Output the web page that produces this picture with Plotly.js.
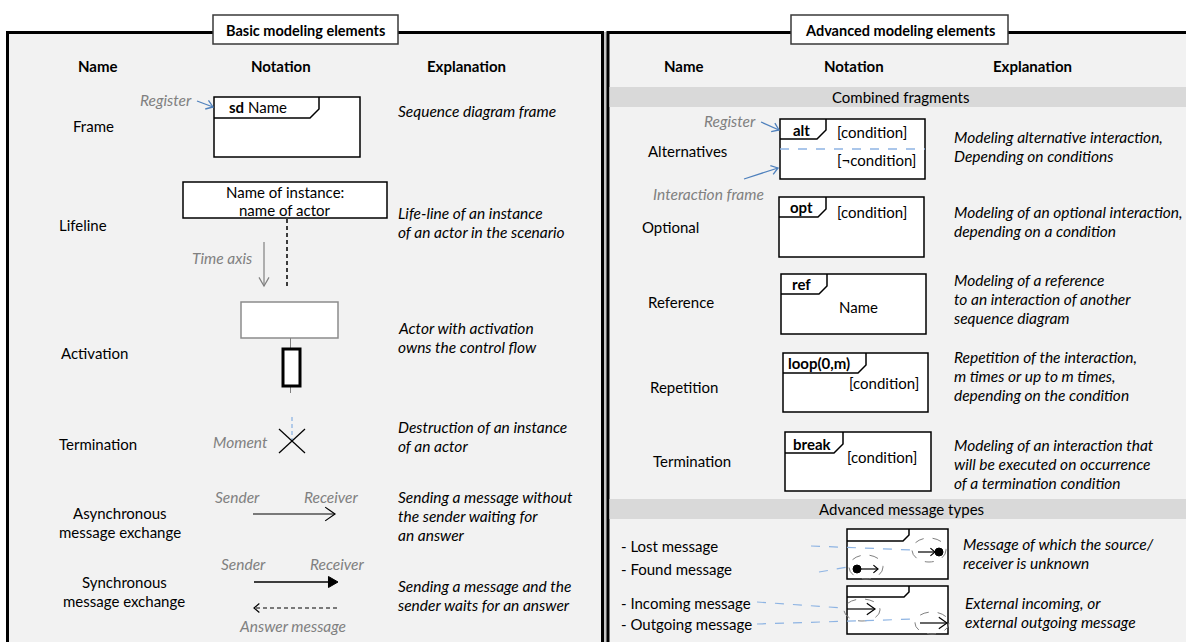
<!DOCTYPE html>
<html><head><meta charset="utf-8">
<script src="https://cdn.plot.ly/plotly-3.0.1.min.js"></script>
<style>html,body{margin:0;padding:0;background:#fff;}#chart{width:1186px;height:642px;}</style>
</head><body><div id="chart"></div>
<script>
// ---------------- DATA (text content) ----------------
const sectionTitles = ["Basic modeling elements", "Advanced modeling elements"];
const columnHeaders = ["Name", "Notation", "Explanation"];
const basicNames = [["Frame"], ["Lifeline"], ["Activation"], ["Termination"],
  ["Asynchronous", "message exchange"], ["Synchronous", "message exchange"]];
const basicExplanations = [
  ["Sequence diagram frame"],
  ["Life-line of an instance", "of an actor in the scenario"],
  ["Actor with activation", "owns the control flow"],
  ["Destruction of an instance", "of an actor"],
  ["Sending a message without", "the sender waiting for", "an answer"],
  ["Sending a message and the", "sender waits for an answer"]
];
const bandTitles = ["Combined fragments", "Advanced message types"];
const advancedNames = ["Alternatives", "Optional", "Reference", "Repetition", "Termination"];
const fragmentOperators = ["alt", "opt", "ref", "loop(0,m)", "break"];
const fragmentTexts = [["[condition]", "[\u00accondition]"], ["[condition]"], ["Name"], ["[condition]"], ["[condition]"]];
const advancedExplanations = [
  ["Modeling alternative interaction,", "Depending on conditions"],
  ["Modeling of an optional interaction,", "depending on a condition"],
  ["Modeling of a reference", "to an interaction of another", "sequence diagram"],
  ["Repetition of the interaction,", "m times or up to m times,", "depending on the condition"],
  ["Modeling of an interaction that", "will be executed on occurrence", "of a termination condition"]
];
const messageLabels = ["- Lost message", "- Found message", "- Incoming message", "- Outgoing message"];
const messageExplanations = [["Message of which the source/", "receiver is unknown"],
  ["External incoming, or", "external outgoing message"]];
const frameTitle = ["sd", "Name"];
const lifelineText = ["Name of instance:", "name of actor"];
const hintLabels = { register: "Register", timeAxis: "Time axis", moment: "Moment", sender: "Sender",
  receiver: "Receiver", answer: "Answer message", interactionFrame: "Interaction frame" };

// ---------------- DRAWING ----------------
const FONT = "Lato, 'Open Sans', sans-serif";
const GRAY = "#808080", BLUE = "#4f81bd", LBLUE = "#8eb4e3";
const SIZE = 15, ISIZE = 15.5;
const shapes = [], ann = [];
function rect(x0, y0, x1, y1, color, width, fill, dash) {
  shapes.push({type: 'rect', xref: 'x', yref: 'y', x0, y0, x1, y1,
    line: {color: color || 'rgba(0,0,0,0)', width: width || 0, dash: dash || 'solid'}, fillcolor: fill || 'rgba(0,0,0,0)'});
}
function line(x0, y0, x1, y1, color, width, dash) {
  shapes.push({type: 'line', xref: 'x', yref: 'y', x0, y0, x1, y1, line: {color, width, dash: dash || 'solid'}});
}
function path(d, color, width, fill, dash) {
  shapes.push({type: 'path', xref: 'x', yref: 'y', path: d, line: {color, width, dash: dash || 'solid'}, fillcolor: fill || 'rgba(0,0,0,0)'});
}
function ellipse(cx, cy, rx, ry, color, width, dash, fill) {
  shapes.push({type: 'circle', xref: 'x', yref: 'y', x0: cx - rx, x1: cx + rx, y0: cy - ry, y1: cy + ry,
    line: {color, width, dash: dash || 'solid'}, fillcolor: fill || 'rgba(0,0,0,0)'});
}
function wings(x1, y1, x2, y2, len, deg) {
  const a = Math.atan2(y2 - y1, x2 - x1), r = deg * Math.PI / 180;
  return [[x2 - len * Math.cos(a - r), y2 - len * Math.sin(a - r)], [x2 - len * Math.cos(a + r), y2 - len * Math.sin(a + r)]];
}
function arrow(x1, y1, x2, y2, o) {
  o = Object.assign({color: '#000', width: 1.2, dash: 'solid', len: 10, deg: 30, filled: false}, o);
  const [p, q] = wings(x1, y1, x2, y2, o.len, o.deg);
  if (o.filled) {
    const a = Math.atan2(y2 - y1, x2 - x1);
    const c = o.len * Math.cos(o.deg * Math.PI / 180);
    line(x1, y1, x2 - c * Math.cos(a), y2 - c * Math.sin(a), o.color, o.width, o.dash);
    path(`M${p[0]},${p[1]} L${x2},${y2} L${q[0]},${q[1]} Z`, o.color, 1, o.color);
  } else {
    line(x1, y1, x2, y2, o.color, o.width, o.dash);
    path(`M${p[0]},${p[1]} L${x2},${y2} L${q[0]},${q[1]}`, o.color, o.width);
  }
}
function text(x, y, t, o) {
  o = o || {};
  ann.push({x, y, xref: 'x', yref: 'y', text: t, showarrow: false,
    xanchor: o.xanchor || 'center', yanchor: 'middle',
    font: {family: FONT, size: o.size || (o.italic ? ISIZE : SIZE), color: o.color || '#000',
      style: o.italic ? 'italic' : 'normal', weight: o.bold ? 'bold' : 'normal'}});
}
function lines(x, y, arr, step, o) { arr.forEach((t, i) => text(x, y + i * step, t, o)); }
function fragment(x0, y0, x1, y1, tabRight, tabBottom, cut) {
  rect(x0, y0, x1, y1, '#000', 1.5, '#fff');
  path(`M${x0},${tabBottom} L${tabRight - cut},${tabBottom} L${tabRight},${tabBottom - cut} L${tabRight},${y0}`, '#000', 1.5);
}

// panels
rect(602, 32, 609, 700, null, 0, '#c4c4c4');
rect(7.5, 32.5, 602.5, 700, '#000', 3, '#f2f2f2');
rect(608, 32.5, 1200, 700, '#000', 3, '#f2f2f2');
rect(609.5, 87, 1200, 107, null, 0, '#d9d9d9');
rect(609.5, 499, 1200, 519, null, 0, '#d9d9d9');
rect(213, 15, 398, 44, '#3a3a3a', 1.5, '#fff');
rect(791, 15, 1008, 44, '#3a3a3a', 1.5, '#fff');
text(305.5, 30, sectionTitles[0], {bold: true, size: 14.5});
text(899.5, 30, sectionTitles[1], {bold: true, size: 14.5});

// column headers
[[98, 281, 466], [684, 854, 1032]].forEach(xs => xs.forEach((x, i) => text(x, 66, columnHeaders[i], {bold: true})));

// ----- left panel -----
const leftNameX = [93, 83, 94, 98, 120, 124];
const leftNameY = [126, 225, 353, 444, 513, 582];
basicNames.forEach((n, i) => lines(leftNameX[i], leftNameY[i], n, 19));
const leftExpY = [111, 213, 328, 427, 497, 586];
basicExplanations.forEach((e, i) => lines(396, leftExpY[i], e, 19, {xanchor: 'left', italic: true}));

// frame
fragment(214, 97, 360, 157, 319, 118, 9);
text(227, 107, `<b>${frameTitle[0]}</b> ${frameTitle[1]}`, {xanchor: 'left'});
text(194, 100, hintLabels.register, {xanchor: 'right', italic: true, color: GRAY});
arrow(197, 101, 213, 107, {color: BLUE, width: 1.3, len: 8, deg: 35});

// lifeline
rect(183, 182, 387, 218, '#000', 1.5, '#fff');
lines(285, 192, lifelineText, 18);
line(287, 219, 287, 287, '#000', 1.5, '4px,3px');
text(222, 258, hintLabels.timeAxis, {italic: true, color: GRAY});
arrow(264, 242, 264, 286, {color: GRAY, width: 1.2, len: 10, deg: 30});

// activation
rect(241, 302, 338, 338, '#8c8c8c', 1.5, '#fff');
line(290.5, 338, 290.5, 349, GRAY, 1);
line(290.5, 386, 290.5, 393, GRAY, 1);
rect(283, 349, 300, 386, '#000', 3, '#fff');

// termination
line(292, 417, 292, 441, LBLUE, 1.3, '4px,3px');
line(279, 429, 305, 453, '#000', 1.2);
line(305, 429, 279, 453, '#000', 1.2);
text(270, 442, hintLabels.moment, {xanchor: 'right', italic: true, color: GRAY});

// async
text(237, 497, hintLabels.sender, {italic: true, color: GRAY});
text(331, 497, hintLabels.receiver, {italic: true, color: GRAY});
arrow(253, 514, 335, 514, {len: 12, deg: 35});

// sync
text(243, 564, hintLabels.sender, {italic: true, color: GRAY});
text(337, 564, hintLabels.receiver, {italic: true, color: GRAY});
arrow(254, 582, 338, 582, {len: 11, deg: 30, filled: true, width: 1.5});
arrow(337, 608, 254, 608, {len: 7, deg: 40, dash: '4px,3px', width: 1.2});
text(292, 626, hintLabels.answer, {italic: true, color: GRAY});

// ----- right panel -----
text(901, 97, bandTitles[0]);
text(901, 509, bandTitles[1]);
const rightNameX = [687, 670, 681, 684, 692];
const rightNameY = [151, 227, 302, 387, 461];
advancedNames.forEach((n, i) => text(rightNameX[i], rightNameY[i], n));
const rightExpY = [137, 212, 280, 357, 445];
advancedExplanations.forEach((e, i) => lines(952, rightExpY[i], e, 19, {xanchor: 'left', italic: true}));

// fragments: [x0,y0,x1,y1,tabRight,tabBottom,cut]
const frags = [[780, 119, 925, 179, 826, 139, 9], [779, 197, 924, 257, 826, 217, 8], [781, 274, 926, 334, 827, 294, 8],
  [783, 353, 928, 412, 866, 373, 8], [785, 432, 931, 491, 843, 453, 9]];
frags.forEach(f => fragment(...f));
// operators
text(791, 130, `<b>${fragmentOperators[0]}</b>`, {xanchor: 'left'});
text(788, 207, `<b>${fragmentOperators[1]}</b>`, {xanchor: 'left'});
text(790, 284, `<b>${fragmentOperators[2]}</b>`, {xanchor: 'left'});
text(786, 363, `<b>${fragmentOperators[3]}</b>`, {xanchor: 'left'});
text(791, 444, `<b>${fragmentOperators[4]}</b>`, {xanchor: 'left'});
// conditions
line(780, 149, 925, 149, LBLUE, 1.3, 'dash');
text(872, 132, fragmentTexts[0][0]);
text(876, 160, fragmentTexts[0][1]);
text(872, 212, fragmentTexts[1][0]);
text(858, 307, fragmentTexts[2][0]);
text(884, 383, fragmentTexts[3][0]);
text(882, 457, fragmentTexts[4][0]);
// hints for alt
text(758, 121, hintLabels.register, {xanchor: 'right', italic: true, color: GRAY});
arrow(761, 122, 779, 130, {color: BLUE, width: 1.3, len: 8, deg: 35});
text(708, 194, hintLabels.interactionFrame, {italic: true, color: GRAY});
arrow(744, 179, 778, 168, {color: BLUE, width: 1.3, len: 8, deg: 35});

// advanced message types
messageLabels.forEach((t, i) => text(619, [546, 569, 603, 624][i], t, {xanchor: 'left'}));
messageExplanations.forEach((e, i) => lines([961, 963][i], [544, 603][i], e, 19, {xanchor: 'left', italic: true}));
fragment(847, 529, 948, 579, 909, 541, 6);
fragment(847, 586, 948, 634, 909, 597, 5);
// lost
ellipse(929, 550, 17, 12, GRAY, 1, 'dash');
arrow(918, 552, 935, 552, {len: 6, deg: 40, width: 1.2});
ellipse(939, 552, 4, 4, '#000', 1, 'solid', '#000');
line(811, 546, 913, 550, LBLUE, 1.2, 'dash');
// found
ellipse(866, 567, 17, 12, GRAY, 1, 'dash');
ellipse(857, 569, 4, 4, '#000', 1, 'solid', '#000');
arrow(860, 569, 878, 569, {len: 6, deg: 40, width: 1.2});
line(819, 572, 848, 567, LBLUE, 1.2, 'dash');
// incoming
ellipse(862, 610, 18, 11, GRAY, 1, 'dash');
arrow(847, 609, 875, 609, {len: 10, deg: 35, width: 1.2});
line(757, 602, 843, 608, LBLUE, 1.2, 'dash');
// outgoing
ellipse(932, 623, 17, 11, GRAY, 1, 'dash');
arrow(920, 623, 947, 623, {len: 10, deg: 35, width: 1.2});
line(757, 624, 916, 619, LBLUE, 1.2, 'dash');

const layout = {
  width: 1186, height: 642, margin: {l: 0, r: 0, t: 0, b: 0}, showlegend: false,
  paper_bgcolor: '#fff', plot_bgcolor: '#fff',
  xaxis: {range: [0, 1186], visible: false, fixedrange: true},
  yaxis: {range: [642, 0], visible: false, fixedrange: true},
  shapes, annotations: ann
};
Plotly.newPlot('chart', [{x: [], y: [], type: 'scatter', mode: 'markers', hoverinfo: 'skip'}], layout,
  {displayModeBar: false, staticPlot: true});
</script></body></html>
